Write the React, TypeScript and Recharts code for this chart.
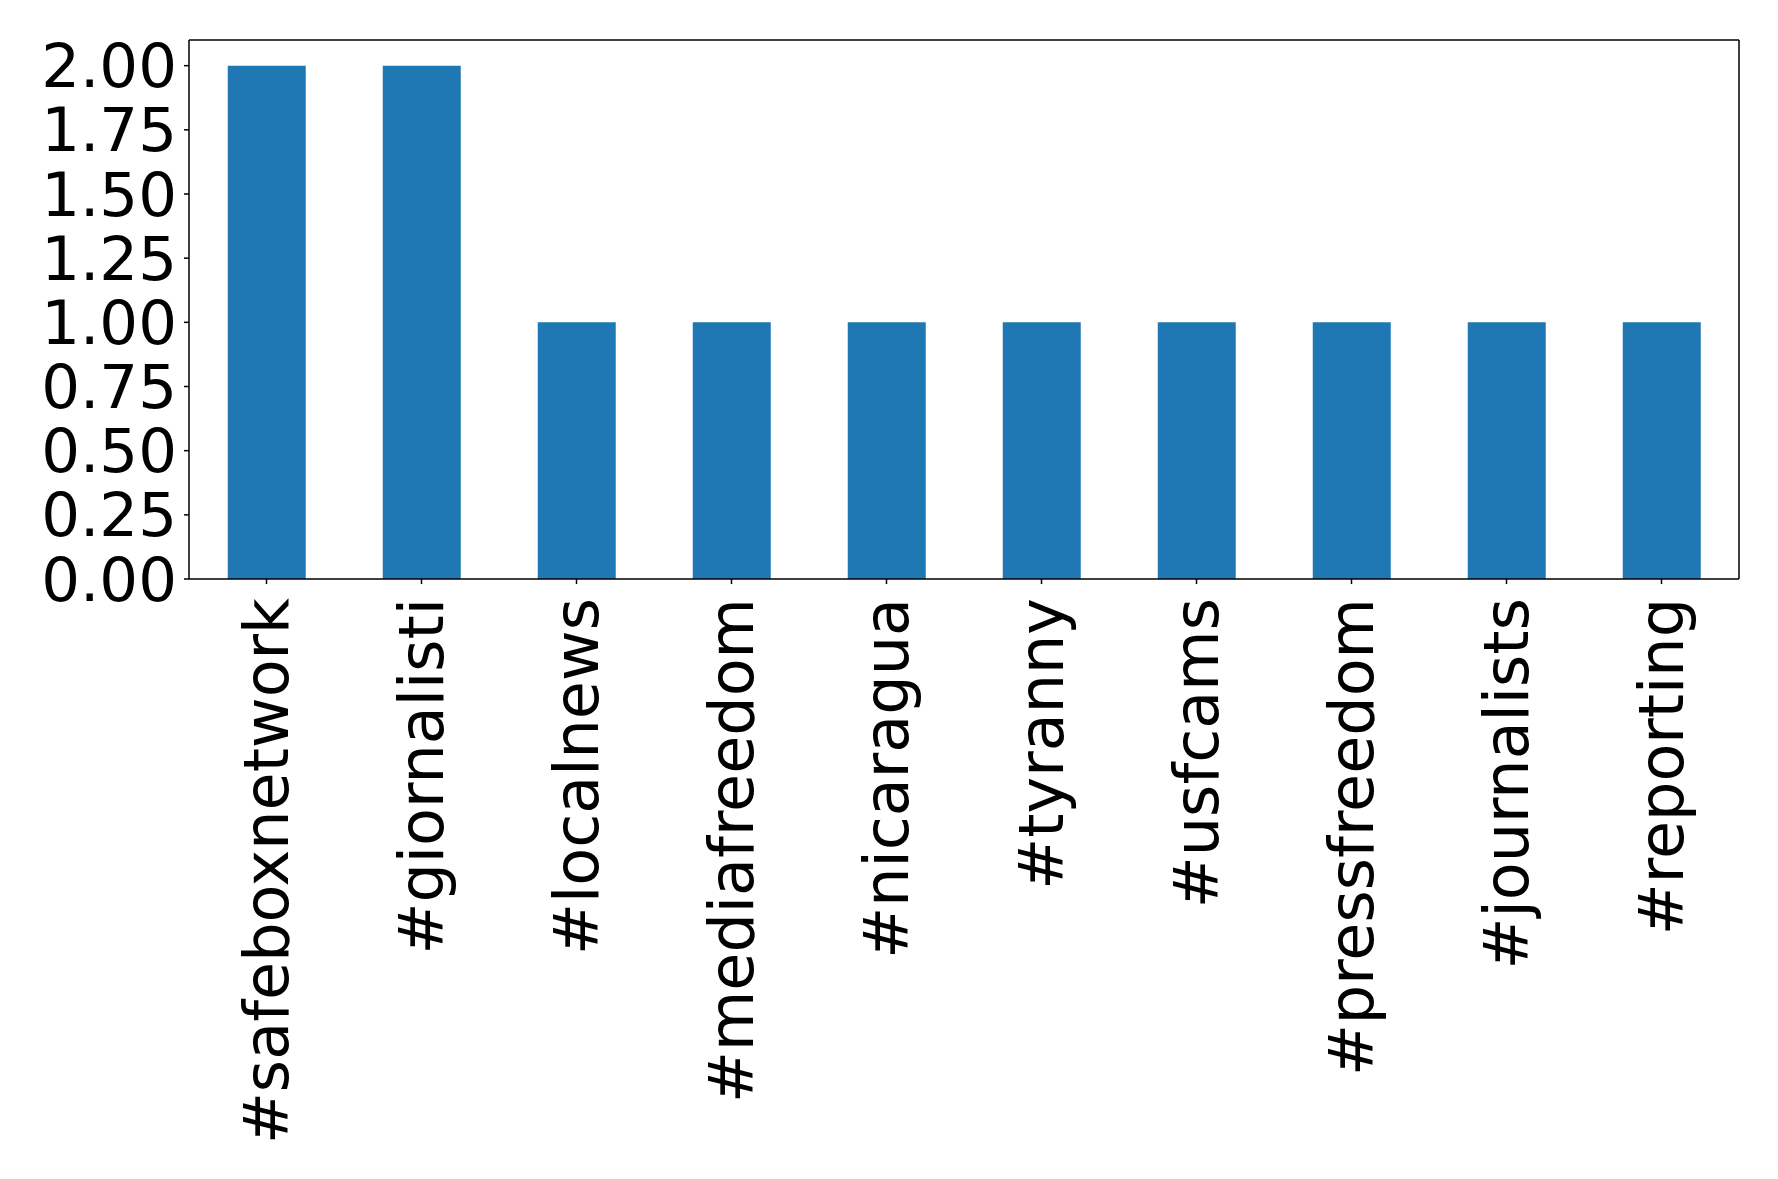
import React from 'react';
import { BarChart, Bar, XAxis, YAxis } from 'recharts';

// hashtag counts
const hashtags = [
  '#safeboxnetwork',
  '#giornalisti',
  '#localnews',
  '#mediafreedom',
  '#nicaragua',
  '#tyranny',
  '#usfcams',
  '#pressfreedom',
  '#journalists',
  '#reporting',
];
const counts = [2, 2, 1, 1, 1, 1, 1, 1, 1, 1];
const yTicks = [0, 0.25, 0.5, 0.75, 1.0, 1.25, 1.5, 1.75, 2.0];

const data = hashtags.map((tag, i) => ({ tag, count: counts[i] }));

const FONT = '"DejaVu Sans", sans-serif';

// rotated category label, reads bottom-to-top like matplotlib rotation=90
const RotatedTick = ({ x, y, payload }: any) => (
  <g transform={`translate(${x},${y + 12}) rotate(-90)`}>
    <text x={0} y={0} dy="0.35em" textAnchor="end" fill="#000" fontSize={62} fontFamily={FONT}>
      {payload.value}
    </text>
  </g>
);

export default function App() {
  return (
    <div style={{ width: 1778, height: 1179, background: '#fff' }}>
      <style>{`body{margin:0}`}</style>
      <BarChart
        width={1778}
        height={1179}
        data={data}
        margin={{ top: 39, right: 38, bottom: 0, left: 0 }}
        barCategoryGap="25%"
      >
        <XAxis
          dataKey="tag"
          height={600}
          interval={0}
          tick={<RotatedTick />}
          tickSize={5}
          tickMargin={2}
          stroke="#000"
          strokeWidth={1.5}
        />
        <XAxis
          xAxisId="top"
          dataKey="tag"
          orientation="top"
          height={1}
          tick={false}
          tickLine={false}
          stroke="#000"
          strokeWidth={1.5}
        />
        <YAxis
          width={189}
          domain={[0, 2.1]}
          ticks={yTicks}
          interval={0}
          tickFormatter={(v: number) => v.toFixed(2)}
          tick={{ fill: '#000', fontSize: 61, fontFamily: FONT }}
          tickSize={5}
          tickMargin={7}
          stroke="#000"
          strokeWidth={1.5}
        />
        <YAxis
          yAxisId="right"
          orientation="right"
          width={1}
          tick={false}
          tickLine={false}
          stroke="#000"
          strokeWidth={1.5}
        />
        <Bar dataKey="count" fill="#1f77b4" isAnimationActive={false} />
      </BarChart>
    </div>
  );
}
